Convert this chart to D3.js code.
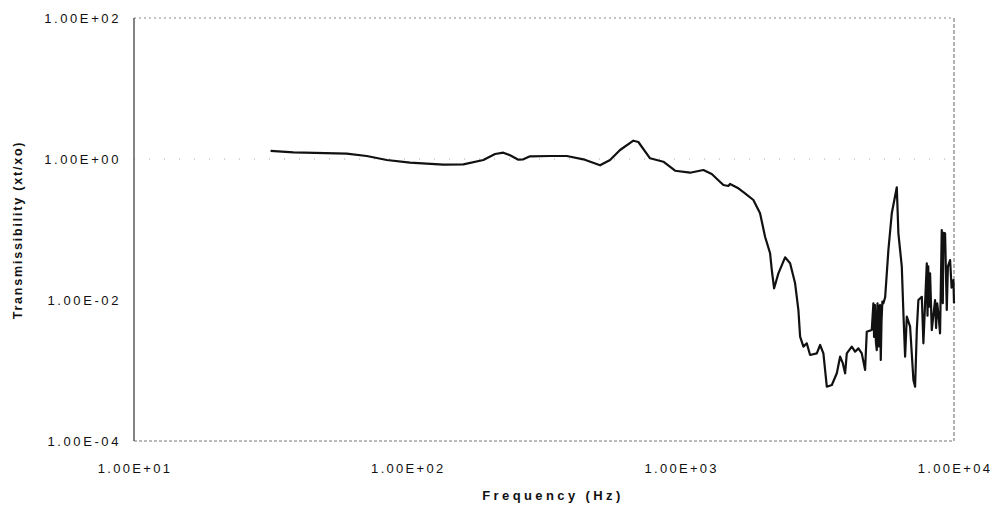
<!DOCTYPE html>
<html>
<head>
<meta charset="utf-8">
<script src="https://cdn.jsdelivr.net/npm/d3@7"></script>
<style>
  body { margin: 0; background: #fff; }
  text { font-family: "Liberation Sans", Arial, sans-serif; fill: #111; }
</style>
</head>
<body>
<div id="chart"></div>
<script>
// values (frequency in Hz, transmissibility xt/xo)
var freq = [31.6, 38.3, 60.0, 71.0, 84.1, 102.3, 135.4, 160.3, 189.7, 209.4,
    224.5, 237.6, 254.8, 265.7, 281.2, 332.8, 383.1, 440.6, 507.2, 551.6,
    600.1, 671.3, 700.2, 772.7, 864.3, 954, 1082, 1211, 1299, 1433,
    1494, 1516, 1626, 1720, 1845, 1952, 2036, 2124, 2155, 2197,
    2278, 2410, 2514, 2622, 2696, 2735, 2812, 2893, 2975, 3148,
    3237, 3328, 3425, 3573, 3726, 3831, 3919, 3996, 4053, 4227,
    4346, 4469, 4598, 4728, 4796, 5002, 5071, 5100, 5140, 5180,
    5218, 5250, 5300, 5330, 5365, 5397, 5430, 5470, 5516, 5600,
    5754, 5921, 6176, 6260, 6442, 6530, 6624, 6720, 6909,
    7104, 7206, 7310, 7408, 7625, 7727, 7952, 8000, 8050, 8100,
    8175, 8293, 8525, 8600, 8680, 8766, 8892, 9020, 9100, 9150,
    9276, 9409, 9500, 9676, 9800, 9950, 10000]
var trans = [1.30, 1.245, 1.19, 1.103, 0.968, 0.886, 0.830, 0.841, 0.968, 1.178,
    1.229, 1.128, 0.977, 0.990, 1.092, 1.103, 1.103, 0.990, 0.814, 0.968,
    1.342, 1.818, 1.742, 1.023, 0.915, 0.682, 0.639, 0.698, 0.613, 0.428,
    0.414, 0.442, 0.384, 0.326, 0.262, 0.170, 0.0790, 0.0460, 0.0266, 0.01466,
    0.0239, 0.0403, 0.0332, 0.01725, 0.00721, 0.00302, 0.00218, 0.00243, 0.00166, 0.00175,
    0.00230, 0.00175, 0.000589, 0.000623, 0.000913, 0.00157, 0.00127, 0.000913, 0.00175, 0.00218,
    0.00185, 0.00206, 0.00175, 0.00102, 0.00355, 0.00375, 0.00898, 0.0030, 0.0085, 0.0025,
    0.00195, 0.0090, 0.0022, 0.0080, 0.00849, 0.00141, 0.0050, 0.0095, 0.00898, 0.0110,
    0.0512, 0.170, 0.397, 0.0883, 0.0297, 0.00648, 0.00157, 0.00580, 0.00418,
    0.000733, 0.000589, 0.00375, 0.01, 0.0111, 0.00243, 0.0332, 0.0060, 0.0300, 0.0080,
    0.0239, 0.00375, 0.01, 0.0040, 0.0090, 0.00648, 0.00337, 0.0984, 0.0090, 0.0900,
    0.0883, 0.00721, 0.0300, 0.0369, 0.0150, 0.0192, 0.00898]

var xTicks = [1e1, 1e2, 1e3, 1e4]
var xTickLabels = ["1.00E+01", "1.00E+02", "1.00E+03", "1.00E+04"]
var yTicks = [1e2, 1e0, 1e-2, 1e-4]
var yTickLabels = ["1.00E+02", "1.00E+00", "1.00E-02", "1.00E-04"]

var width = 995, height = 508
var margin = {top: 18, right: 41, bottom: 67, left: 134}

var svg = d3.select("#chart").append("svg")
    .attr("width", width)
    .attr("height", height)

var x = d3.scaleLog()
    .domain([1e1, 1e4])
    .range([margin.left, width - margin.right])
var y = d3.scaleLog()
    .domain([1e-4, 1e2])
    .range([height - margin.bottom, margin.top])

// gridlines / frame
svg.append("g")
    .selectAll("line")
    .data(yTicks.slice(0, 2))
    .enter()
    .append("line")
    .attr("x1", x(1e1))
    .attr("x2", x(1e4))
    .attr("y1", function (d) { return y(d) })
    .attr("y2", function (d) { return y(d) })
    .attr("stroke", function (d, i) { return i == 0 ? "#888" : "#aaa" })
    .attr("stroke-width", 1)
    .attr("stroke-dasharray", function (d, i) { return i == 0 ? "2,3" : "1,14" })

svg.append("line")
    .attr("x1", x(1e1)).attr("x2", x(1e4))
    .attr("y1", y(1e-4)).attr("y2", y(1e-4))
    .attr("stroke", "#777")
    .attr("stroke-dasharray", "3,2")

svg.append("line")
    .attr("x1", x(1e4)).attr("x2", x(1e4))
    .attr("y1", y(1e2)).attr("y2", y(1e-4))
    .attr("stroke", "#666")
    .attr("stroke-dasharray", "4,2")

svg.append("line")
    .attr("x1", x(1e1)).attr("x2", x(1e1))
    .attr("y1", y(1e2)).attr("y2", y(1e-4))
    .attr("stroke", "#333")
    .attr("stroke-width", 1.2)

// tick labels
svg.append("g")
    .selectAll("text")
    .data(yTicks)
    .enter()
    .append("text")
    .attr("x", 121)
    .attr("y", function (d) { return y(d) + 5 })
    .attr("text-anchor", "end")
    .style("font-size", "13px")
    .style("letter-spacing", "2.6px")
    .text(function (d, i) { return yTickLabels[i] })

svg.append("g")
    .selectAll("text")
    .data(xTicks)
    .enter()
    .append("text")
    .attr("x", function (d) { return x(d) + 1 })
    .attr("y", 473)
    .attr("text-anchor", "middle")
    .style("font-size", "13px")
    .style("letter-spacing", "2.3px")
    .text(function (d, i) { return xTickLabels[i] })

// axis titles
svg.append("text")
    .attr("x", 553)
    .attr("y", 500)
    .attr("text-anchor", "middle")
    .style("font-size", "13px")
    .style("font-weight", "bold")
    .style("letter-spacing", "3.4px")
    .text("Frequency (Hz)")

svg.append("text")
    .attr("transform", "translate(22,230) rotate(-90)")
    .attr("text-anchor", "middle")
    .style("font-size", "12.5px")
    .style("font-weight", "bold")
    .style("letter-spacing", "1.8px")
    .text("Transmissibility (xt/xo)")

// the curve
var points = freq.map(function (f, i) { return [f, trans[i]] })
var line = d3.line()
    .x(function (d) { return x(d[0]) })
    .y(function (d) { return y(d[1]) })

svg.append("path")
    .datum(points)
    .attr("d", line)
    .attr("fill", "none")
    .attr("stroke", "#111")
    .attr("stroke-width", 2.2)
    .attr("stroke-linejoin", "round")
</script>
</body>
</html>
